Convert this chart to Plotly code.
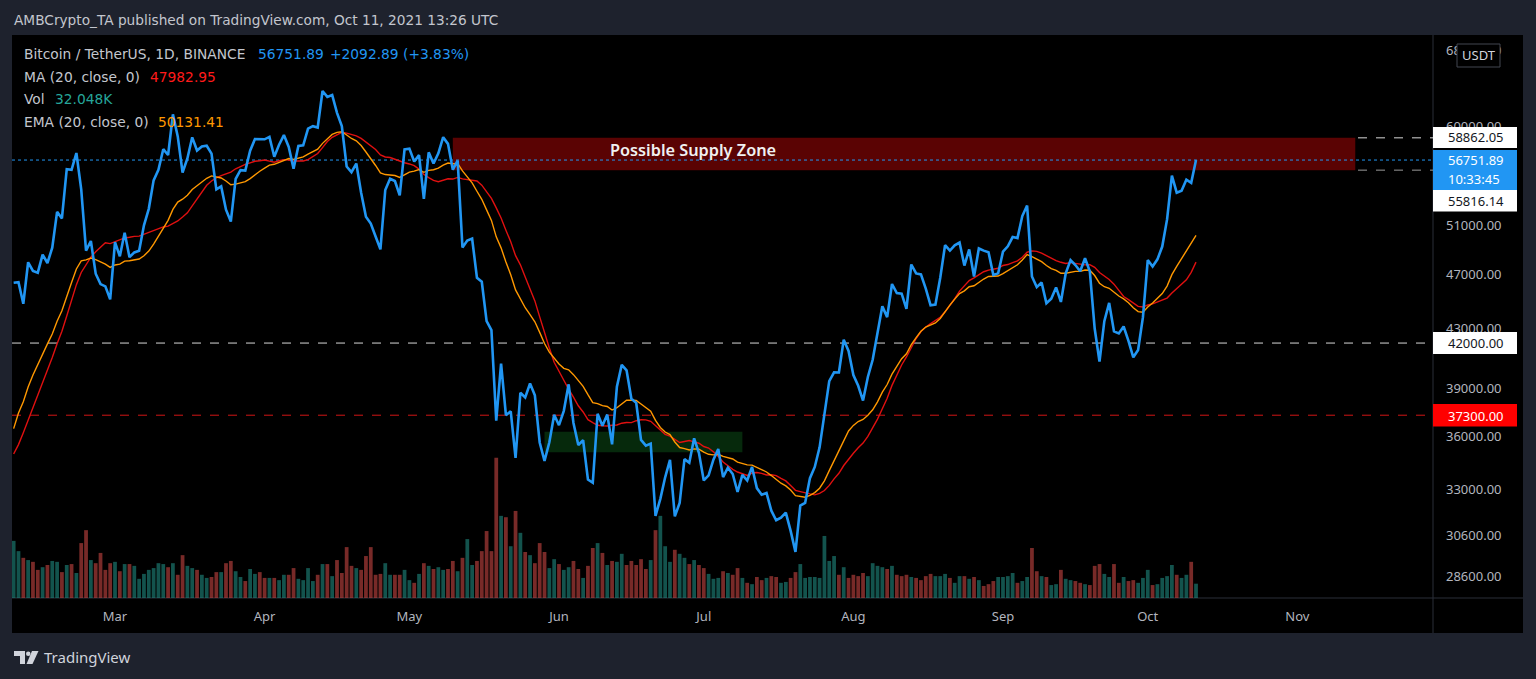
import datetime as dt
import numpy as np
import pandas as pd
import plotly.graph_objects as go

# ---------------- data ----------------
# closes before the visible window (needed only for the 20-day MA / EMA)
warmup_close = [
    18250, 18036, 18808, 19175, 19273, 19427, 21380, 22847, 23137, 23870, 23478,
    22745, 23824, 23249, 23733, 24712, 26494, 26282, 27079, 27385, 28876, 28924,
    29332, 32178, 33000, 31989, 33950, 36770, 39407, 40670, 40241, 38240, 35545,
    34012, 37393, 39159, 36770, 36005, 35820, 36630, 35891, 35468, 30851, 32945,
    32079, 32259, 32255, 32467, 30366, 33364, 34252, 34262, 33092,
    33526, 35466, 37618, 36936, 38290, 39186, 38795,
]
start_date = "2021-02-08"
close = [
    # Feb 8 - 28
    46374, 46420, 44807, 47969, 47287, 47153, 48577, 47911, 49133, 52119, 51552,
    55906, 55841, 57412, 54087, 48891, 49676, 47073, 46276, 46106, 45135,
    # Mar
    49587, 48440, 50349, 48374, 48751, 48882, 50971, 52375, 54884, 55851,
    57773, 57221, 61188, 59000, 55600, 56900, 58912, 57648, 58030, 58102,
    57351, 54083, 54341, 52303, 51293, 55025, 55817, 55777, 57635, 58746, 58740,
    # Apr
    58720, 58950, 57058, 58202, 59129, 57991, 55953, 58077, 58142, 59769,
    60002, 59861, 63575, 62959, 63159, 61334, 60006, 56150, 55633, 56425,
    53787, 51690, 51125, 50047, 49004, 54022, 55033, 54824, 53555, 57750,
    # May
    57828, 56610, 57213, 53241, 57473, 56428, 57381, 58928, 58280, 55859,
    56704, 49150, 49716, 49880, 46760, 46457, 43538, 42910, 36964, 40597,
    37304, 37536, 34770, 38705, 38403, 39295, 38537, 35664, 34606, 35678, 37332,
    # Jun
    36693, 37569, 39246, 36830, 35520, 35796, 33552, 33380, 37389, 36662,
    37338, 35552, 39097, 40519, 40162, 38324, 38068, 35819, 35483, 35600,
    31608, 32509, 33678, 34663, 31584, 32283, 34700, 34494, 35911, 35045,
    # Jul
    33504, 33786, 34669, 35287, 33690, 34220, 33862, 32875, 33815, 33502,
    34259, 33086, 32730, 32820, 31880, 31383, 31520, 31778, 30839, 29790,
    32144, 32287, 33634, 34258, 35381, 37262, 39456, 40020, 40017, 42236, 41461,
    # Aug
    39846, 39147, 38207, 39723, 40862, 42837, 44614, 43830, 46285, 45595,
    45554, 44428, 47793, 47097, 47020, 45937, 44686, 44741, 46762, 49340,
    48905, 49322, 49546, 47707, 48993, 46851, 49070, 48896, 48767, 46970, 47100,
    # Sep
    48810, 49246, 49999, 49915, 51756, 52663, 46863, 46048, 46395, 44843,
    45173, 46026, 44940, 47112, 48146, 47754, 47264, 48292, 47241, 43016,
    40735, 43543, 44865, 42811, 42670, 43160, 42147, 41026, 41524, 43824,
    # Oct
    48141, 47635, 48200, 49224, 51471, 55315, 53786, 53951, 54949, 54659, 56751.89,
]
# daily volume, thousands of BTC
volume_k = [
    128, 105, 90, 85, 81, 63, 69, 74, 83, 81,
    58, 74, 76, 56, 123, 152, 85, 78, 101, 63,
    78, 81, 60, 76, 76, 72, 43, 54, 63, 67,
    78, 76, 69, 78, 52, 96, 72, 67, 63, 52,
    45, 47, 58, 58, 78, 83, 60, 47, 38, 65,
    54, 58, 45, 45, 45, 40, 52, 52, 67, 43,
    40, 67,
    38, 52, 76, 76, 49, 85, 56, 114, 72, 67,
    63, 94, 114, 52, 54, 78, 52, 52, 52, 63,
    40, 34, 54, 78, 72, 65, 69, 63, 65, 83,
    60, 90, 132, 74, 83, 105, 150, 105, 314, 184,
    181, 116, 195, 146, 103, 96, 78, 123, 103, 67,
    87, 76, 63, 69, 83, 65, 45, 72, 112, 123,
    101,
    74, 83, 81, 99, 74, 83, 74, 87, 65, 85,
    152, 184, 116, 81, 108, 99, 90, 76, 85, 74,
    67, 54, 43, 45, 60, 56, 52, 67, 45, 34,
    31, 47, 40, 45, 49, 47, 34, 36, 45, 58,
    76, 45, 47, 47, 45, 139, 83, 94, 52, 69,
    45, 52, 49, 56, 49, 78, 72, 69, 65, 72,
    52,
    49, 52, 47, 45, 40, 49, 54, 49, 49, 54,
    45, 34, 49, 49, 43, 47, 40, 27, 31, 38,
    47, 47, 49, 56, 34, 38, 47, 112, 60, 49,
    47, 29, 31, 63, 43, 40, 38, 34, 31, 29,
    72, 76, 54, 47, 76, 34, 47, 38, 40, 34,
    45, 63, 29, 31, 45, 49, 74, 52, 45, 52,
    81, 32.048,
]
month_ticks = ["2021-03-01", "2021-04-01", "2021-05-01", "2021-06-01", "2021-07-01",
               "2021-08-01", "2021-09-01", "2021-10-01", "2021-11-01"]
month_labels = ["Mar", "Apr", "May", "Jun", "Jul", "Aug", "Sep", "Oct", "Nov"]
price_ticks = [28600, 30600, 33000, 36000, 39000, 43000, 47000, 51000, 60000, 68000]

supply_zone = {"x0": "2021-05-10", "x1": "2021-11-13", "low": 55816.14, "high": 58862.05}
demand_zone = {"x0": "2021-05-29", "x1": "2021-07-09", "low": 35100, "high": 36300}
level_white = 42000.00
level_red = 37300.00
last_price = 56751.89

# ---------------- derived ----------------
dates = pd.date_range(start_date, periods=len(close), freq="D")
n = min(len(close), len(volume_k))
all_close = pd.Series(warmup_close + close)
ma20 = all_close.rolling(20).mean().iloc[len(warmup_close):].to_numpy()
ema20 = all_close.ewm(span=20, adjust=False).mean().iloc[len(warmup_close):].to_numpy()
prev_close = [warmup_close[-1]] + close[:-1]
UP = "rgba(38,166,154,0.5)"
DOWN = "rgba(239,83,80,0.5)"
vol_colors = [UP if c >= p else DOWN for c, p in zip(close, prev_close)]

# ---------------- layout geometry (pixels) ----------------
W, H = 1536, 679
PL, PR, PT, PB = 12, 1433, 36, 598
LO, HI = 4.44115, 4.84258
PX_PER_DAY = 4.826
mar1 = dt.datetime(2021, 3, 1)
x_left = mar1 - dt.timedelta(days=(115 - PL) / PX_PER_DAY)
x_right = mar1 + dt.timedelta(days=(PR - 115) / PX_PER_DAY)


def pxx(px):
    return (px - PL) / (PR - PL)


def pxy(py):
    return (PB - py) / (PB - PT)


def vy(v):
    return (np.log10(v) - LO) / (HI - LO)


BG = "#1e222d"
TXT = "#b2b5be"
FONT = "Noto Sans"
LFONT = "DejaVu Sans"

fig = go.Figure()
fig.add_trace(go.Bar(x=dates[:n], y=volume_k[:n], marker=dict(color=vol_colors[:n], line_width=0),
                     yaxis="y2", hoverinfo="skip"))
fig.add_trace(go.Scatter(x=dates, y=ma20, mode="lines", line=dict(color="#e01010", width=1.4),
                         hoverinfo="skip"))
fig.add_trace(go.Scatter(x=dates, y=ema20, mode="lines", line=dict(color="#ff9800", width=1.4),
                         hoverinfo="skip"))
fig.add_trace(go.Scatter(x=dates, y=close, mode="lines", line=dict(color="#2196f3", width=2.6),
                         hoverinfo="skip"))

shapes = []
# black chart panel
shapes.append(dict(type="rect", xref="paper", yref="paper", x0=pxx(12), x1=pxx(1523),
                   y0=pxy(633), y1=pxy(35), fillcolor="#000000", line_width=0, layer="below"))
# separators
shapes.append(dict(type="line", xref="paper", yref="paper", x0=pxx(PR), x1=pxx(PR),
                   y0=pxy(633), y1=pxy(35), line=dict(color="#2a2e39", width=1), layer="below"))
shapes.append(dict(type="line", xref="paper", yref="paper", x0=pxx(12), x1=pxx(1523),
                   y0=pxy(598), y1=pxy(598), line=dict(color="#2a2e39", width=1), layer="below"))
# zones
shapes.append(dict(type="rect", xref="x", yref="paper", x0=supply_zone["x0"], x1=supply_zone["x1"],
                   y0=vy(supply_zone["low"]), y1=vy(supply_zone["high"]),
                   fillcolor="#5a0303", line_width=0, layer="below"))
shapes.append(dict(type="rect", xref="x", yref="paper", x0=demand_zone["x0"], x1=demand_zone["x1"],
                   y0=vy(demand_zone["low"]), y1=vy(demand_zone["high"]),
                   fillcolor="#06290c", line_width=0, layer="below"))
# horizontal levels
shapes.append(dict(type="line", xref="paper", yref="paper", x0=0, x1=1, y0=vy(level_white), y1=vy(level_white),
                   line=dict(color="#d8d8d8", width=1, dash="dash"), layer="below"))
shapes.append(dict(type="line", xref="paper", yref="paper", x0=0, x1=1, y0=vy(level_red), y1=vy(level_red),
                   line=dict(color="#d01515", width=1, dash="dash"), layer="below"))
shapes.append(dict(type="line", xref="paper", yref="paper", x0=0, x1=1, y0=vy(last_price), y1=vy(last_price),
                   line=dict(color="#2196f3", width=1, dash="dot"), layer="below"))
for lv, col in [(supply_zone["high"], "#d8d8d8"), (supply_zone["low"], "#9a9a9a")]:
    shapes.append(dict(type="line", xref="paper", yref="paper", x0=pxx(1358), x1=1, y0=vy(lv), y1=vy(lv),
                       line=dict(color=col, width=1, dash="dash"), layer="below"))


# price-axis label boxes (pixel boxes)
def box(y0, y1, color):
    shapes.append(dict(type="rect", xref="paper", yref="paper", x0=pxx(1433), x1=pxx(1517),
                       y0=pxy(y1), y1=pxy(y0), fillcolor=color, line_width=0, layer="above"))


box(127, 148, "#ffffff")
box(150, 190, "#2196f3")
box(190, 211.5, "#ffffff")
box(332, 354, "#ffffff")
box(404, 426.5, "#ff0000")
# USDT badge
shapes.append(dict(type="rect", xref="paper", yref="paper", x0=pxx(1457), x1=pxx(1500),
                   y0=pxy(67), y1=pxy(44), fillcolor="#000000", line=dict(color="#434651", width=1),
                   layer="above"))
# TradingView logo
shapes.append(dict(type="path", xref="paper", yref="paper",
                   path="M {} {} L {} {} L {} {} L {} {} L {} {} L {} {} Z".format(
                       pxx(14), pxy(651), pxx(25), pxy(651), pxx(25), pxy(664), pxx(20), pxy(664),
                       pxx(20), pxy(656), pxx(14), pxy(656)),
                   fillcolor="#d1d4dc", line_width=0, layer="above"))
shapes.append(dict(type="circle", xref="paper", yref="paper", x0=pxx(26), x1=pxx(30.5),
                   y0=pxy(656), y1=pxy(651.5), fillcolor="#d1d4dc", line_width=0, layer="above"))
shapes.append(dict(type="path", xref="paper", yref="paper",
                   path="M {} {} L {} {} L {} {} L {} {} Z".format(
                       pxx(32), pxy(651), pxx(38.5), pxy(651), pxx(32.5), pxy(664), pxx(26.5), pxy(664)),
                   fillcolor="#d1d4dc", line_width=0, layer="above"))

ann = []


def text(px, py, s, color, size=13, anchor="left", weight=None, family=FONT):
    f = dict(family=family, size=size, color=color)
    if weight:
        f["weight"] = weight
    ann.append(dict(xref="paper", yref="paper", x=pxx(px), y=pxy(py), text=s, showarrow=False,
                    xanchor=anchor, yanchor="middle", font=f))


text(12, 20, "AMBCrypto_TA published on TradingView.com, Oct 11, 2021 13:26 UTC", "#c3c6ce", 13.7,
     family=LFONT)
text(22, 54, "Bitcoin / TetherUS, 1D, BINANCE", "#c3c6ce", 13.8, family=LFONT)
text(256, 54, "56751.89", "#2196f3", 13.8, family=LFONT)
text(328, 54, "+2092.89 (+3.83%)", "#2196f3", 13.8, family=LFONT)
text(22, 77, "MA (20, close, 0)", "#c3c6ce", 13.8, family=LFONT)
text(148, 77, "47982.95", "#ff1a1a", 13.8, family=LFONT)
text(22, 99, "Vol", "#c3c6ce", 13.8, family=LFONT)
text(53, 99, "32.048K", "#26a69a", 13.8, family=LFONT)
text(22, 122, "EMA (20, close, 0)", "#c3c6ce", 13.8, family=LFONT)
text(156, 122, "50131.41", "#ff9800", 13.8, family=LFONT)
text(693, 150, "Possible Supply Zone", "#f0f0f0", 16.3, anchor="center", weight=600)
text(1446, 137.5, "58862.05", "#131722", 13)
text(1446, 160, "56751.89", "#ffffff", 13)
text(1446, 179, "10:33:45", "#ffffff", 13)
text(1446, 201, "55816.14", "#131722", 13)
text(1446, 343, "42000.00", "#131722", 13)
text(1446, 415.5, "37300.00", "#ffffff", 13)
text(1478.5, 55.5, "USDT", "#d1d4dc", 13, anchor="center")
text(42, 657, "TradingView", "#d1d4dc", 15)

fig.update_layout(
    width=W, height=H,
    margin=dict(l=PL, r=W - PR, t=PT, b=H - PB),
    paper_bgcolor=BG, plot_bgcolor="#000000",
    showlegend=False, bargap=0.22,
    shapes=shapes, annotations=ann,
    xaxis=dict(type="date", range=[x_left, x_right], tickvals=month_ticks, ticktext=month_labels,
               showgrid=False, zeroline=False, showline=False, ticks="",
               tickfont=dict(family=FONT, size=13, color=TXT), ticklabelstandoff=9, fixedrange=True),
    yaxis=dict(type="log", range=[LO, HI], side="right", tickvals=price_ticks,
               ticktext=["{:.2f}".format(v) for v in price_ticks],
               showgrid=False, zeroline=False, showline=False, ticks="",
               tickfont=dict(family=FONT, size=13, color=TXT), ticklabelstandoff=12, fixedrange=True),
    yaxis2=dict(overlaying="y", range=[0, 1259], visible=False, fixedrange=True),
)

fig.write_html("out.html",
               config={"displayModeBar": False},
               post_script="document.body.style.margin='0px';"
                           "document.body.style.background='" + BG + "';"
                           "document.documentElement.style.overflow='hidden';")
